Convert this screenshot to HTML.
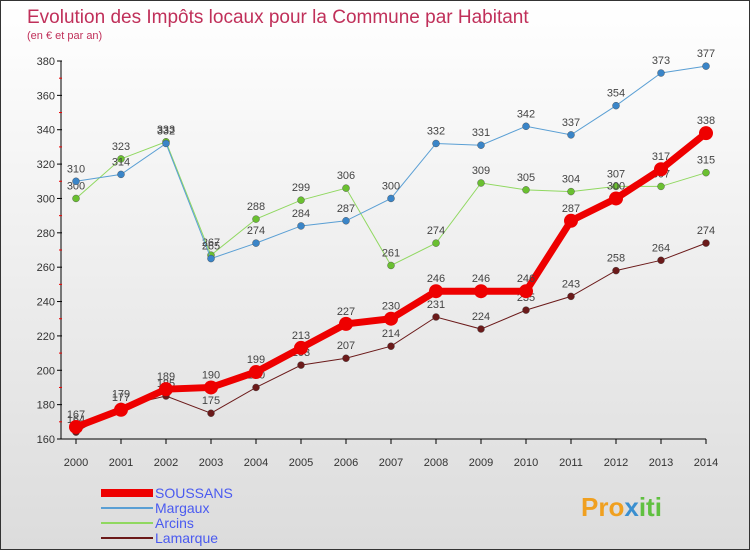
<!DOCTYPE html>
<html><head><meta charset="utf-8"><style>
body{margin:0;width:750px;height:550px;overflow:hidden;font-family:"Liberation Sans",sans-serif}
#wrap{position:relative;width:748px;height:548px;border:1px solid #333;background:linear-gradient(#fff,#dcdcdc)}
</style></head><body>
<div id="wrap">
<svg id="c" width="748" height="548" style="position:absolute;left:0;top:0">
<text x="26" y="22" font-size="19" fill="#c0305a">Evolution des Impôts locaux pour la Commune par Habitant</text>
<text x="26" y="38" font-size="11" fill="#c0305a">(en € et par an)</text>
<g id="axes"></g><g id="series"></g><g id="legend"></g>
<text x="580" y="515" font-size="26" font-weight="bold" fill="#f0a020">Pro<tspan fill="#3a8fd0">x</tspan><tspan fill="#60c040">iti</tspan></text>
</svg>
</div>
<script>
const years=[2000,2001,2002,2003,2004,2005,2006,2007,2008,2009,2010,2011,2012,2013,2014];
const yTicks=[160,180,200,220,240,260,280,300,320,340,360,380];
const soussans=[167,177,189,190,199,213,227,230,246,246,246,287,300,317,338];
const margaux=[310,314,332,265,274,284,287,300,332,331,342,337,354,373,377];
const arcins=[300,323,333,267,288,299,306,261,274,309,305,304,307,307,315];
const lamarque=[164,179,185,175,190,203,207,214,231,224,235,243,258,264,274];
const NS='http://www.w3.org/2000/svg';
const x=i=>75+i*45, y=v=>438-(v-160)*(378/220);
function mk(t,a,p){const e=document.createElementNS(NS,t);for(const k in a)e.setAttribute(k,a[k]);p.appendChild(e);return e;}
const ax=document.getElementById('axes');
let l=mk('line',{x1:60,y1:y(380),x2:60,y2:y(160),stroke:'#000'},ax);

l=mk('line',{x1:60,y1:y(160),x2:x(14),y2:y(160),stroke:'#000'},ax);

yTicks.forEach((v,i)=>{mk('line',{x1:56,y1:y(v),x2:61,y2:y(v),stroke:'#000'},ax);
 if(i<yTicks.length-1)mk('line',{x1:58,y1:y(v+10),x2:61,y2:y(v+10),stroke:'#e00'},ax);
 const t=mk('text',{x:54,y:y(v)+4,'font-size':11,'text-anchor':'end',fill:'#333'},ax);t.textContent=v;
 });
years.forEach((yr,i)=>{mk('line',{x1:x(i),y1:y(160),x2:x(i),y2:y(160)+5,stroke:'#000'},ax);
 const t=mk('text',{x:x(i),y:465,'font-size':11,'text-anchor':'middle',fill:'#333'},ax);t.textContent=yr;
 });
const S=[['lamarque',lamarque,'#6b1a1a','#6b1a1a',1,3.5],['arcins',arcins,'#90d860','#6ac030',1,3.5],['margaux',margaux,'#5a9fd4','#3a85c8',1,3.5],['soussans',soussans,'#ee0000','#ee0000',7,7]];
const sg=document.getElementById('series');
S.forEach(([n,d,c,pc,w,r])=>{const g=mk('g',{},sg);
 const p=mk('polyline',{points:d.map((v,i)=>x(i)+','+y(v)).join(' '),fill:'none',stroke:c,'stroke-width':w},g);
 
 d.forEach((v,i)=>{const ci=mk('circle',{cx:x(i),cy:y(v),r:r,fill:pc,stroke:n=='soussans'?'none':'#444','stroke-width':0.4},g);
  
  const t=mk('text',{x:x(i),y:y(v)-9,'font-size':11,'text-anchor':'middle',fill:'#444'},g);t.textContent=v;
  });});
const lg=document.getElementById('legend');
[['SOUSSANS','#ee0000',8,'soussans'],['Margaux','#5a9fd4',2,'margaux'],['Arcins','#90d860',2,'arcins'],['Lamarque','#6b1a1a',2,'lamarque']].forEach(([n,c,w,k],i)=>{
 const g=mk('g',{},lg);
 mk('line',{x1:100,y1:492+i*15,x2:152,y2:492+i*15,stroke:c,'stroke-width':w},g);
 const t=mk('text',{x:154,y:497+i*15,'font-size':14,fill:'#4a5af0'},g);t.textContent=n;});
</script>
</body></html>
